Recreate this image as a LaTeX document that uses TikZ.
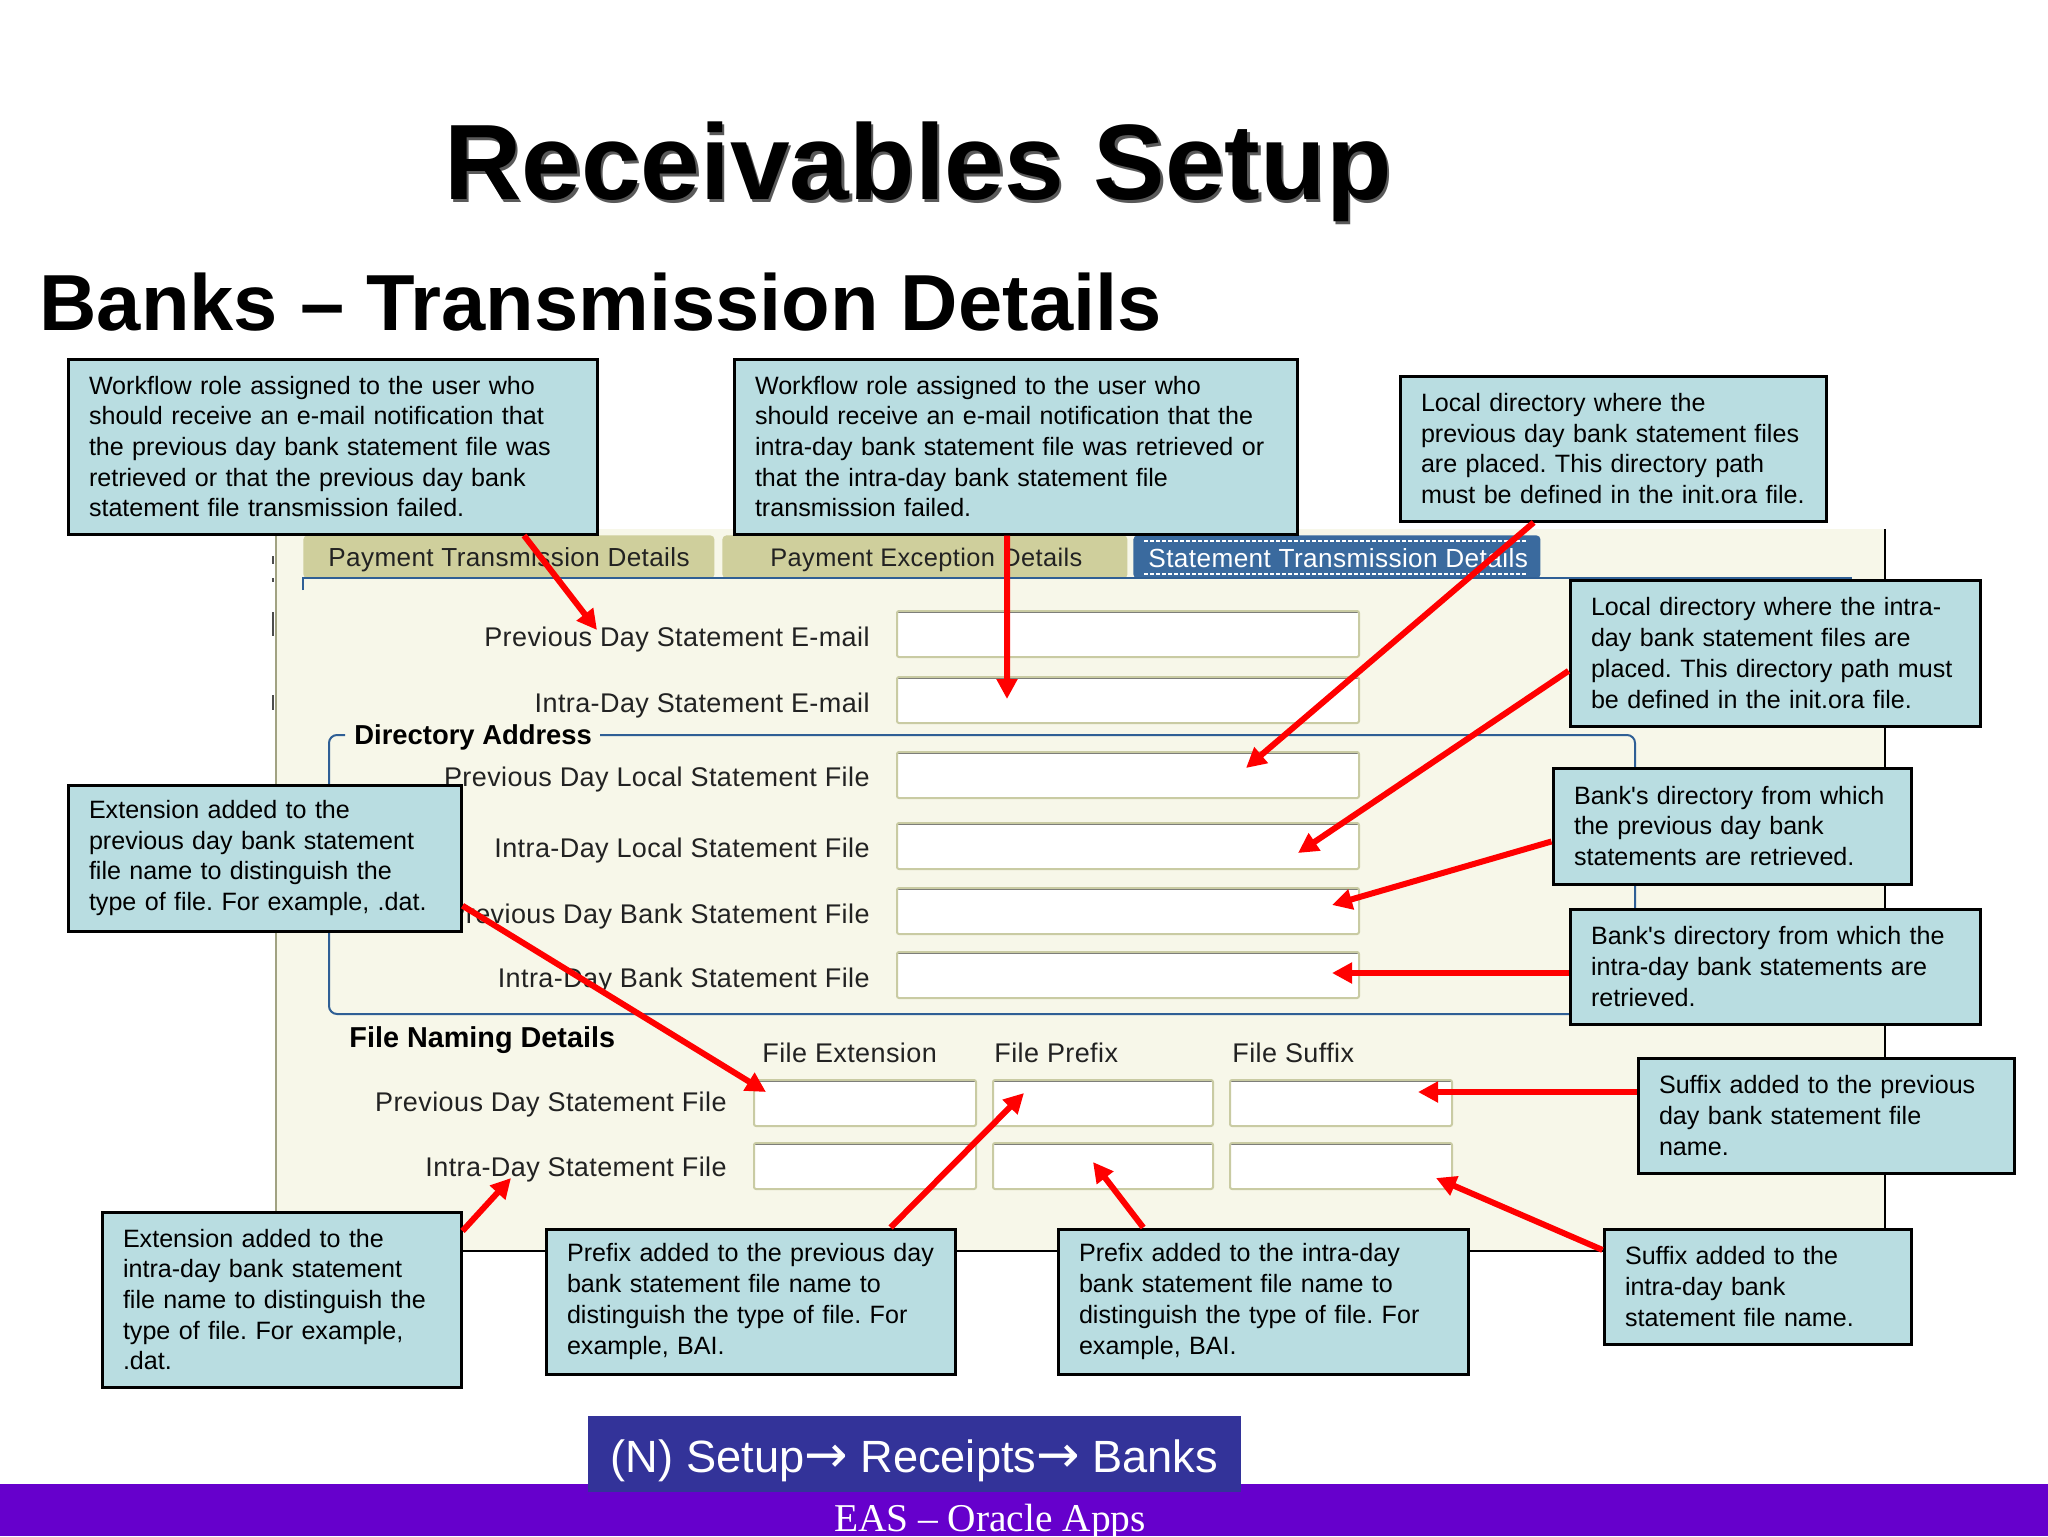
\documentclass[tikz,border=0pt]{standalone}
\usepackage{fontspec}
\setmainfont{Liberation Sans}
\newfontfamily\serifft{Liberation Serif}
\newfontfamily\boxft{Liberation Sans}
\newfontfamily\arrowft{DejaVu Sans}
\newfontfamily\uift{Liberation Sans}[LetterSpace=1.5]
\frenchspacing
\usetikzlibrary{arrows.meta,calc}
\definecolor{panelbg}{HTML}{F7F7E9}
\definecolor{calloutbg}{HTML}{B9DDE1}
\definecolor{tabolive}{HTML}{CFCF9C}
\definecolor{tabblue}{HTML}{3A6A9E}
\definecolor{linkblue}{HTML}{2F5F95}
\definecolor{fieldedge}{HTML}{C9CBA3}
\definecolor{footviolet}{HTML}{6600CC}
\definecolor{navblue}{HTML}{333399}
\definecolor{uitext}{HTML}{222222}
\newcommand{\navarrow}{{\arrowft\fontsize{26}{28}\selectfont →}}
\tikzset{
  x=0.5pt,y=-0.5pt,
  callout/.style n args={2}{draw=black,line width=1.5pt,fill=calloutbg,inner xsep=10.5pt,inner ysep=0pt,
     minimum width=#1*0.5pt,minimum height=#2*0.5pt,text width=#1*0.5pt-21pt,align=left,
     font=\boxft\fontsize{12.55}{15.35}\selectfont,text=black},
  field/.style n args={2}{draw=fieldedge,line width=1pt,fill=white,rounded corners=1pt,
     minimum width=#1*0.5pt,minimum height=#2*0.5pt,inner sep=0pt,
     path picture={\draw[black!55,line width=1.6pt] (path picture bounding box.north west) -- (path picture bounding box.north east);}},
  uilabel/.style={font=\uift\fontsize{13.5}{15}\selectfont,text=uitext,inner sep=0pt},
  uibold/.style={text=black,inner sep=0pt},
  tabbox/.style n args={2}{fill=#2,minimum width=#1*0.5pt,minimum height=21.5pt,inner sep=0pt,rounded corners=2pt},
  pointer/.style={draw=red,line width=3pt,-{Triangle[length=10pt,width=10pt]}},
}
\begin{document}
\begin{tikzpicture}
\useasboundingbox (0,0) rectangle (2048,1536);
\fill[white] (0,0) rectangle (2048,1536);
% footer
\fill[footviolet] (0,1484) rectangle (2048,1536);
\node[font=\serifft\fontsize{19.7}{22}\selectfont,text=white,inner sep=0pt] (foot) at (990,1522) {EAS – Oracle Apps};
\node[fill=navblue,text=white,minimum width=326.5pt,minimum height=38pt,inner sep=0pt,font=\fontsize{22.6}{28}\selectfont] (nav) at (914.5,1454) {\smash{\raisebox{-9pt}{(N) Setup\navarrow{} Receipts\navarrow{} Banks}}};
% titles
\node[font=\bfseries\fontsize{53.6}{60}\selectfont,text=black,inner sep=0pt] (title) at (918,173) {\rlap{\kern1.2pt\raisebox{-1.5pt}{\textcolor{black!65}{Receivables Setup}}}Receivables Setup};
\node[font=\bfseries\fontsize{39.75}{44}\selectfont,text=black,inner sep=0pt,anchor=west] (subtitle) at (39,302) {Banks – Transmission Details};
% panel
\fill[panelbg] (276,529) rectangle (1885,1251);
\draw[draw=fieldedge!80!black,line width=0.8pt] (276,529) -- (276,1212);
\draw[black,line width=1pt] (1885,529) -- (1885,1251);
\draw[black,line width=1pt] (461,1251) -- (1604,1251);
\foreach \ya/\yb in {556/564,578/582,612/636,695/710}{\draw[black!70,line width=1.2pt] (273,\ya) -- (273,\yb);}
% tabs
\node[tabbox={411}{tabolive},anchor=north west] (tab1) at (303,535) {};
\node[tabbox={405}{tabolive},anchor=north west] (tab2) at (722,535) {};
\node[tabbox={407}{tabblue},anchor=north west] (tab3) at (1133,535) {};
\draw[linkblue,line width=1pt] (303,590) -- (303,578) -- (1852,578);
\node[uilabel,anchor=west,font=\uift\fontsize{13.05}{15}\selectfont] (tab1t) at (328,560) {Payment Transmission Details};
\node[uilabel,anchor=west,font=\uift\fontsize{12.7}{15}\selectfont] (tab2t) at (770,560) {Payment Exception Details};
\node[uilabel,anchor=west,text=white,font=\uift\fontsize{13.1}{15}\selectfont] (tab3t) at (1148,558) {Statement Transmission Details};
\draw[white,line width=0.7pt,dash pattern=on 2pt off 1pt] (1144,541) -- (1526,541) (1144,574) -- (1526,574);
% directory group
\draw[linkblue,line width=1pt,rounded corners=4pt] (345,735) -- (329,735) -- (329,1014) -- (1635,1014) -- (1635,735) -- (600,735);
\node[uibold,anchor=west,font=\bfseries\fontsize{13.7}{15}\selectfont] (dirlab) at (354,737) {Directory Address};
% fields
\node[field={462}{46},anchor=north west] (f1) at (896,610) {};
\node[field={462}{46},anchor=north west] (f2) at (896,676) {};
\node[field={462}{46},anchor=north west] (f3) at (896,751) {};
\node[field={462}{46},anchor=north west] (f4) at (896,822) {};
\node[field={462}{46},anchor=north west] (f5) at (896,887) {};
\node[field={462}{46},anchor=north west] (f6) at (896,951) {};
\node[uilabel,anchor=east] (l1) at (870,640) {Previous Day Statement E-mail};
\node[uilabel,anchor=east] (l2) at (870,706) {Intra-Day Statement E-mail};
\node[uilabel,anchor=east] (l3) at (870,780) {Previous Day Local Statement File};
\node[uilabel,anchor=east] (l4) at (870,851) {Intra-Day Local Statement File};
\node[uilabel,anchor=east] (l5) at (870,917) {Previous Day Bank Statement File};
\node[uilabel,anchor=east] (l6) at (870,981) {Intra-Day Bank Statement File};
% file naming
\node[uibold,anchor=west,font=\bfseries\fontsize{14.4}{15}\selectfont] (fnd) at (349,1040) {File Naming Details};
\node[uilabel,anchor=west] (h1) at (762,1053) {File Extension};
\node[uilabel,anchor=west] (h2) at (994,1053) {File Prefix};
\node[uilabel,anchor=west] (h3) at (1232,1053) {File Suffix};
\node[uilabel,anchor=east] (l7) at (727,1105) {Previous Day Statement File};
\node[uilabel,anchor=east] (l8) at (727,1170) {Intra-Day Statement File};
\node[field={222}{46},anchor=north west] (s1) at (753,1079) {};
\node[field={220}{46},anchor=north west] (s2) at (992,1079) {};
\node[field={222}{46},anchor=north west] (s3) at (1229,1079) {};
\node[field={222}{46},anchor=north west] (s4) at (753,1142) {};
\node[field={220}{46},anchor=north west] (s5) at (992,1142) {};
\node[field={222}{46},anchor=north west] (s6) at (1229,1142) {};
% callouts
\node[callout={529}{175}] (b1) at (332.5,446.5) {Workflow role assigned to the user who\\should receive an e-mail notification that\\the previous day bank statement file was\\retrieved or that the previous day bank\\statement file transmission failed.};
\node[callout={563}{175}] (b2) at (1015.5,446.5) {Workflow role assigned to the user who\\should receive an e-mail notification that the\\intra-day bank statement file was retrieved or\\that the intra-day bank statement file\\transmission failed.};
\node[callout={426}{145}] (b3) at (1613,448.5) {Local directory where the\\previous day bank statement files\\are placed. This directory path\\must be defined in the init.ora file.};
\node[callout={410}{146}] (b4) at (1775,653) {Local directory where the intra-\\day bank statement files are\\placed. This directory path must\\be defined in the init.ora file.};
\node[callout={358}{116}] (b5) at (1732,826) {Bank's directory from which\\the previous day bank\\statements are retrieved.};
\node[callout={410}{115}] (b6) at (1775,966.5) {Bank's directory from which the\\intra-day bank statements are\\retrieved.};
\node[callout={376}{115}] (b7) at (1826,1115.5) {Suffix added to the previous\\day bank statement file\\name.};
\node[callout={307}{115}] (b8) at (1757.5,1286.5) {Suffix added to the\\intra-day bank\\statement file name.};
\node[callout={410}{145}] (b9) at (1263,1301.5) {Prefix added to the intra-day\\bank statement file name to\\distinguish the type of file. For\\example, BAI.};
\node[callout={409}{145}] (b10) at (750.5,1301.5) {Prefix added to the previous day\\bank statement file name to\\distinguish the type of file. For\\example, BAI.};
\node[callout={359}{175}] (b11) at (281.5,1299.5) {Extension added to the\\intra-day bank statement\\file name to distinguish the\\type of file. For example,\\.dat.};
\node[callout={393}{146}] (b12) at (264.5,858) {Extension added to the\\previous day bank statement\\file name to distinguish the\\type of file. For example, .dat.};
% arrow tips
\coordinate (t1) at (597,630);
\coordinate (t2) at (1007,699);
\coordinate (t3) at (1246,768);
\coordinate (t4) at (1298,853);
\coordinate (t5) at (1332,905);
\coordinate (t6) at (1332,973);
\coordinate (t7) at (1418,1092);
\coordinate (t8) at (1436,1178);
\coordinate (t9) at (1093,1162);
\coordinate (t10) at (1024,1093);
\coordinate (t11) at (511,1178);
\coordinate (t12) at (766,1092);
% arrows
\draw[pointer] ($(b1.south west)!0.86!(b1.south east)$) -- (t1);
\draw[pointer] ($(b2.south west)!0.485!(b2.south east)$) -- (t2);
\draw[pointer] ($(b3.south west)!0.315!(b3.south east)$) -- (t3);
\draw[pointer] ($(b4.north west)!0.62!(b4.south west)$) -- (t4);
\draw[pointer] ($(b5.north west)!0.63!(b5.south west)$) -- (t5);
\draw[pointer] (b6.west |- t6) -- (t6);
\draw[pointer] (b7.west |- t7) -- (t7);
\draw[pointer] ($(b8.north west)!0.19!(b8.south west)$) -- (t8);
\draw[pointer] ($(b9.north west)!0.21!(b9.north east)$) -- (t9);
\draw[pointer] ($(b10.north west)!0.84!(b10.north east)$) -- (t10);
\draw[pointer] ($(b11.north east)!0.115!(b11.south east)$) -- (t11);
\draw[pointer] ($(b12.north east)!0.82!(b12.south east)$) -- (t12);
\end{tikzpicture}
\end{document}
